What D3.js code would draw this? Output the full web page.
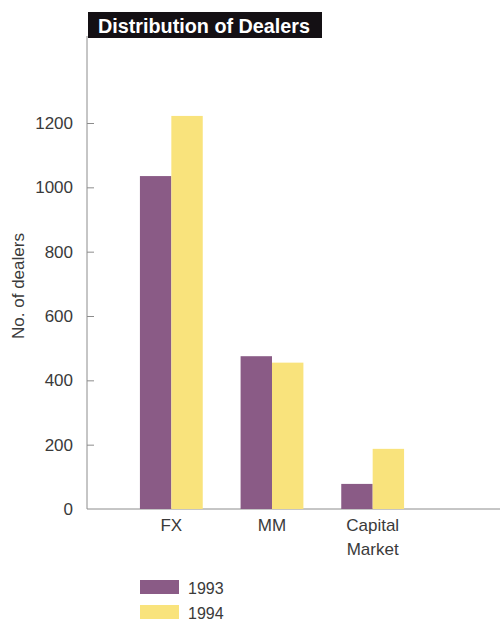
<!DOCTYPE html>
<html>
<head>
<meta charset="utf-8">
<script src="https://cdn.jsdelivr.net/npm/d3@7"></script>
<style>
  html, body { margin: 0; padding: 0; background: #fff; }
  svg text { font-family: "Liberation Sans", Arial, Helvetica, sans-serif; }
</style>
</head>
<body>
<svg id="chart" width="501" height="623"></svg>
<script>
// Dealer counts by market segment
const categories = ["FX", "MM", "Capital Market"];
const categoryLines = [["FX"], ["MM"], ["Capital", "Market"]];
const years = ["1993", "1994"];
const dealers1993 = [1035, 475, 78];
const dealers1994 = [1222, 455, 187];
const yTicks = [0, 200, 400, 600, 800, 1000, 1200];
const seriesColors = ["#8a5b86", "#f9e37c"];

const svg = d3.select("#chart");
const axisX = 87;
const textColor = "#3a3a3a";
const lineColor = "#8c8c8c";

const y = d3.scaleLinear().domain([0, 1200]).range([509, 123]);
const x = d3.scaleBand().domain(categories).range([121, 423]).paddingInner(0.376).paddingOuter(0.188);
const xs = d3.scaleBand().domain(years).range([0, x.bandwidth()]);

const series = [dealers1993, dealers1994];

// Y axis line rising to the title box
svg.append("line")
  .attr("x1", axisX).attr("x2", axisX)
  .attr("y1", 36).attr("y2", y(0))
  .attr("stroke", lineColor).attr("stroke-width", 1);

// Baseline
svg.append("line")
  .attr("x1", axisX).attr("x2", 500)
  .attr("y1", y(0)).attr("y2", y(0))
  .attr("stroke", lineColor).attr("stroke-width", 1);

// Y ticks (pointing inward) and labels
const yAxis = d3.axisLeft(y).tickValues(yTicks).tickSize(-7).tickPadding(14).tickFormat(d3.format("d"));
const gy = svg.append("g").attr("transform", `translate(${axisX},0)`).call(yAxis);
gy.select(".domain").remove();
gy.selectAll(".tick line").attr("stroke", lineColor);
gy.selectAll(".tick").filter(d => d === 0).select("line").remove();
gy.selectAll(".tick text")
  .attr("fill", textColor).style("font-size", "17px")
  .style("font-family", "'Liberation Sans', Arial, sans-serif");

// Y axis title
svg.append("text")
  .attr("transform", "translate(24,286) rotate(-90)")
  .attr("text-anchor", "middle")
  .attr("fill", textColor).style("font-size", "17px")
  .text("No. of dealers");

// Bars
categories.forEach((c, i) => {
  years.forEach((yr, j) => {
    const v = series[j][i];
    svg.append("rect")
      .attr("x", x(c) + xs(yr))
      .attr("y", y(v))
      .attr("width", xs.bandwidth())
      .attr("height", y(0) - y(v))
      .attr("fill", seriesColors[j]);
  });
});

// Category labels
categories.forEach((c, i) => {
  const cx = x(c) + x.bandwidth() / 2;
  const t = svg.append("text")
    .attr("x", cx)
    .attr("y", 531)
    .attr("text-anchor", "middle")
    .attr("fill", textColor).style("font-size", "17px");
  categoryLines[i].forEach((line, k) => {
    t.append("tspan").attr("x", cx).attr("dy", k === 0 ? 0 : 24).text(line);
  });
});

// Title box
svg.append("rect")
  .attr("x", 88).attr("y", 12).attr("width", 234).attr("height", 26)
  .attr("fill", "#141014");
svg.append("text")
  .attr("x", 98).attr("y", 33)
  .attr("textLength", 212).attr("lengthAdjust", "spacingAndGlyphs")
  .attr("fill", "#fff").style("font-size", "20px").style("font-weight", "bold")
  .text("Distribution of Dealers");

// Legend
years.forEach((yr, j) => {
  const ly = 580 + j * 25;
  svg.append("rect")
    .attr("x", 140).attr("y", ly).attr("width", 39).attr("height", 14)
    .attr("fill", seriesColors[j]);
  svg.append("text")
    .attr("x", 188).attr("y", ly + 14)
    .attr("fill", textColor).style("font-size", "16px")
    .text(yr);
});
</script>
</body>
</html>
